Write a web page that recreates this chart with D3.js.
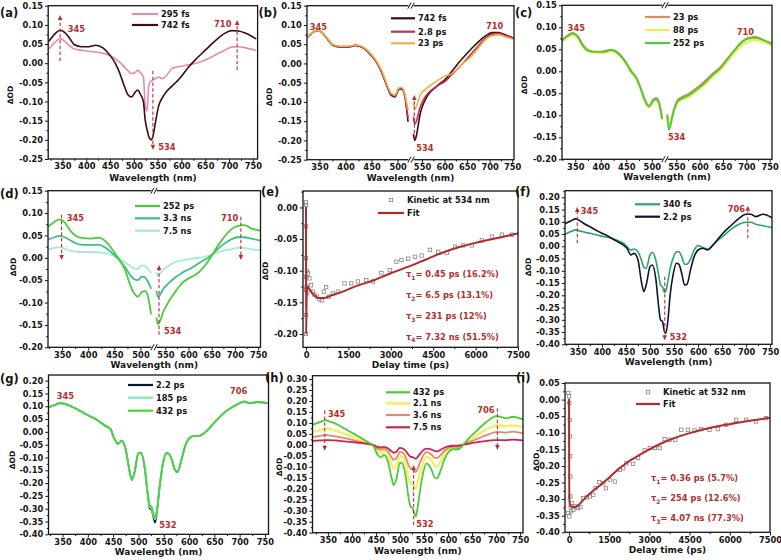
<!DOCTYPE html>
<html><head><meta charset="utf-8">
<script src="https://cdn.jsdelivr.net/npm/d3@7"></script>
<style>body{margin:0;background:#fff}svg{display:block}</style>
</head><body>
<svg id="c" width="781" height="560"></svg>
<script>
// ---------------- DATA ----------------
const W1 = [322,335,345,355,365,375,390,405,420,435,450,460,470,480,488,495,502,508,514,520,524,528,531,534,537,541,546,552,560,570,580,590,600,615,630,645,660,675,690,705,720,735,756];
const W2 = [314,335,345,355,365,375,390,405,420,435,445,452,460,467,475,482,487,492,500,505,512,518,522,526,530,533,537,542,548,555,560,566,572,577,585,592,600,610,620,630,640,655,670,685,700,710,720,735,756];

// (a)
const a_295fs = [0.038,0.055,0.064,0.057,0.045,0.037,0.034,0.031,0.029,0.026,0.020,0.012,0.003,-0.010,-0.020,-0.027,-0.025,-0.018,-0.025,-0.035,-0.110,-0.125,-0.060,-0.050,-0.046,-0.043,-0.040,-0.036,-0.040,-0.030,-0.014,-0.010,-0.008,-0.004,0.000,0.006,0.014,0.024,0.033,0.042,0.043,0.040,0.034];
const a_742fs = [0.058,0.078,0.086,0.080,0.065,0.048,0.043,0.043,0.047,0.040,0.020,0.002,-0.025,-0.060,-0.083,-0.088,-0.077,-0.070,-0.082,-0.100,-0.150,-0.175,-0.190,-0.198,-0.200,-0.185,-0.150,-0.112,-0.090,-0.072,-0.060,-0.048,-0.034,-0.010,0.010,0.028,0.046,0.063,0.077,0.085,0.084,0.078,0.064];
// (b)
const b_742fs = [0.062,0.078,0.086,0.080,0.064,0.048,0.043,0.043,0.047,0.040,0.020,0.002,-0.025,-0.060,-0.083,-0.087,-0.068,-0.066,-0.085,-0.150,null,null,-0.185,-0.200,-0.190,-0.165,-0.130,-0.108,-0.088,-0.072,-0.062,-0.052,-0.043,-0.022,0.000,0.020,0.039,0.056,0.071,0.080,0.080,0.074,0.064];
const b_28ps = [0.062,0.078,0.086,0.080,0.064,0.048,0.043,0.043,0.047,0.040,0.021,0.003,-0.023,-0.058,-0.081,-0.085,-0.067,-0.066,-0.084,-0.140,null,null,-0.140,-0.158,-0.152,-0.135,-0.113,-0.097,-0.082,-0.070,-0.062,-0.054,-0.048,-0.030,-0.013,0.006,0.026,0.046,0.065,0.076,0.078,0.072,0.064];
const b_23ps = [0.064,0.079,0.086,0.080,0.066,0.050,0.045,0.045,0.048,0.042,0.023,0.005,-0.020,-0.055,-0.078,-0.082,-0.064,-0.062,-0.080,-0.120,null,null,-0.105,-0.118,-0.113,-0.100,-0.082,-0.073,-0.065,-0.056,-0.048,-0.040,-0.033,-0.027,-0.012,0.004,0.019,0.040,0.061,0.072,0.074,0.069,0.062];
// (c)
const c_23ps = [0.068,0.081,0.087,0.079,0.060,0.048,0.044,0.045,0.049,0.041,0.019,0.000,-0.015,-0.044,-0.069,-0.079,-0.066,-0.061,-0.070,-0.105,null,null,-0.100,-0.128,-0.121,-0.102,-0.083,-0.067,-0.060,-0.055,-0.049,-0.041,-0.033,-0.019,-0.004,0.010,0.029,0.048,0.066,0.075,0.076,0.070,0.061];
const c_88ps = [0.065,0.077,0.083,0.076,0.056,0.045,0.042,0.042,0.046,0.038,0.016,-0.003,-0.018,-0.047,-0.072,-0.082,-0.070,-0.065,-0.074,-0.108,null,null,-0.104,-0.130,-0.123,-0.104,-0.086,-0.072,-0.066,-0.061,-0.056,-0.048,-0.040,-0.026,-0.010,0.004,0.023,0.042,0.059,0.068,0.071,0.067,0.058];
const c_252ps = [0.068,0.080,0.086,0.078,0.058,0.047,0.044,0.044,0.048,0.040,0.018,-0.001,-0.016,-0.045,-0.070,-0.080,-0.068,-0.063,-0.072,-0.107,null,null,-0.103,-0.133,-0.125,-0.105,-0.085,-0.070,-0.063,-0.058,-0.052,-0.044,-0.036,-0.022,-0.006,0.008,0.028,0.048,0.066,0.076,0.078,0.072,0.062];
// (d)
const d_252ps = [0.069,0.080,0.086,0.079,0.062,0.050,0.044,0.043,0.045,0.035,0.012,-0.005,-0.026,-0.060,-0.080,-0.087,-0.077,-0.074,-0.085,-0.125,null,null,-0.135,-0.148,-0.145,-0.135,-0.120,-0.108,-0.093,-0.078,-0.064,-0.053,-0.046,-0.038,-0.024,-0.004,0.022,0.044,0.062,0.071,0.073,0.066,0.060];
const d_33ns = [0.040,0.046,0.049,0.046,0.040,0.033,0.029,0.029,0.029,0.021,0.006,-0.006,-0.020,-0.038,-0.048,-0.050,-0.042,-0.043,-0.053,-0.068,null,null,-0.075,-0.087,-0.085,-0.078,-0.069,-0.062,-0.054,-0.045,-0.038,-0.031,-0.026,-0.017,-0.007,0.002,0.017,0.030,0.040,0.046,0.046,0.043,0.038];
const d_75ns = [0.018,0.022,0.024,0.020,0.016,0.014,0.013,0.013,0.012,0.010,0.004,-0.003,-0.010,-0.018,-0.024,-0.025,-0.017,-0.018,-0.025,-0.033,null,null,-0.033,-0.040,-0.037,-0.032,-0.027,-0.021,-0.016,-0.010,-0.007,-0.005,-0.003,-0.001,0.001,0.005,0.011,0.016,0.019,0.022,0.022,0.019,0.017];
// (e) kinetic at 534 nm
const e_t = [0,0,0,0,0,0,0,10,20,30,40,60,120,178,237,296,390,474,557,628,711,806,948,1126,1363,1600,1836,2133,2370,2666,2962,3199,3377,3614,3851,4088,4384,4680,4977,5273,5569,5865,6220,6576,6931,7287];
const e_od = [0.008,0.004,-0.030,-0.080,-0.130,-0.170,-0.200,-0.110,-0.125,-0.100,-0.135,-0.104,-0.112,-0.123,-0.133,-0.138,-0.141,-0.145,-0.147,-0.133,-0.126,-0.141,-0.136,-0.133,-0.120,-0.120,-0.117,-0.115,-0.117,-0.104,-0.099,-0.086,-0.083,-0.081,-0.078,-0.076,-0.067,-0.070,-0.072,-0.062,-0.060,-0.060,-0.052,-0.046,-0.043,-0.043];
const e_fit_t = [0,2,5,15,40,100,250,450,650,900,1300,1800,2400,3000,3600,4200,4800,5400,6000,6600,7200,7500];
const e_fit = [0.000,-0.100,-0.200,-0.160,-0.125,-0.128,-0.137,-0.143,-0.143,-0.139,-0.133,-0.124,-0.115,-0.104,-0.094,-0.083,-0.072,-0.063,-0.056,-0.050,-0.044,-0.041];
const e_tau = ["0.45 ps (16.2%)","6.5 ps (13.1%)","231 ps (12%)","7.32 ns (51.5%)"];
// (f)
const f_340fs = [0.040,0.060,0.067,0.062,0.057,0.053,0.046,0.039,0.033,0.022,0.012,-0.001,-0.015,-0.011,-0.022,-0.056,-0.085,-0.090,-0.035,-0.024,-0.056,-0.117,-0.158,-0.165,-0.188,-0.182,-0.144,-0.090,-0.049,-0.022,-0.022,-0.042,-0.073,-0.073,-0.049,-0.015,0.003,-0.005,-0.011,0.003,0.022,0.046,0.071,0.090,0.098,0.098,0.090,0.084,0.076];
const f_22ps = [0.085,0.103,0.112,0.103,0.090,0.080,0.063,0.049,0.033,0.016,0.005,-0.008,-0.035,-0.029,-0.056,-0.144,-0.185,-0.158,-0.083,-0.076,-0.131,-0.246,-0.301,-0.307,-0.348,-0.355,-0.307,-0.197,-0.117,-0.069,-0.073,-0.110,-0.158,-0.155,-0.090,-0.042,-0.015,-0.008,-0.015,0.003,0.026,0.060,0.087,0.114,0.131,0.131,0.121,0.131,0.114];
// (g)
const g_22ps = [0.090,0.105,0.112,0.109,0.102,0.092,0.076,0.060,0.044,0.023,0.010,-0.025,-0.047,-0.034,-0.070,-0.148,-0.188,-0.161,-0.083,-0.081,-0.135,-0.240,-0.298,-0.305,-0.337,-0.355,-0.305,-0.214,-0.128,-0.083,-0.086,-0.109,-0.148,-0.155,-0.109,-0.057,-0.025,-0.016,-0.016,-0.005,0.014,0.047,0.076,0.096,0.112,0.118,0.112,0.116,0.112];
const g_185ps = [0.090,0.105,0.112,0.109,0.102,0.092,0.076,0.060,0.044,0.023,0.010,-0.025,-0.047,-0.034,-0.070,-0.148,-0.188,-0.161,-0.083,-0.081,-0.135,-0.238,-0.292,-0.300,-0.330,-0.342,-0.300,-0.212,-0.128,-0.083,-0.086,-0.109,-0.148,-0.157,-0.110,-0.057,-0.025,-0.016,-0.016,-0.005,0.014,0.047,0.076,0.096,0.112,0.118,0.112,0.116,0.112];
const g_432ps = [0.090,0.105,0.112,0.109,0.102,0.092,0.076,0.060,0.044,0.023,0.010,-0.025,-0.046,-0.034,-0.070,-0.148,-0.186,-0.160,-0.083,-0.081,-0.134,-0.232,-0.285,-0.292,-0.322,-0.335,-0.298,-0.210,-0.128,-0.083,-0.086,-0.109,-0.148,-0.158,-0.110,-0.058,-0.026,-0.016,-0.016,-0.005,0.014,0.047,0.076,0.096,0.112,0.118,0.112,0.116,0.112];
// (h)
const h_432ps = [0.088,0.105,0.113,0.105,0.098,0.086,0.068,0.049,0.030,0.010,-0.005,-0.039,-0.057,-0.046,-0.077,-0.145,-0.183,-0.160,-0.081,-0.084,-0.145,-0.243,-0.281,-0.289,-0.312,-0.327,-0.281,-0.205,-0.130,-0.084,-0.092,-0.115,-0.148,-0.152,-0.115,-0.069,-0.036,-0.020,-0.020,-0.005,0.022,0.055,0.086,0.113,0.131,0.128,0.121,0.128,0.116];
const h_21ns = [0.058,0.068,0.075,0.070,0.065,0.058,0.046,0.034,0.021,0.007,-0.004,-0.024,-0.035,-0.028,-0.048,-0.088,-0.108,-0.098,-0.052,-0.054,-0.090,-0.150,-0.172,-0.178,-0.192,-0.200,-0.172,-0.127,-0.081,-0.054,-0.058,-0.072,-0.094,-0.098,-0.074,-0.044,-0.024,-0.013,-0.013,-0.003,0.014,0.036,0.058,0.076,0.088,0.088,0.085,0.088,0.082];
const h_36ns = [0.034,0.041,0.045,0.042,0.039,0.035,0.028,0.020,0.012,0.004,-0.003,-0.015,-0.022,-0.017,-0.030,-0.055,-0.068,-0.062,-0.032,-0.034,-0.056,-0.093,-0.107,-0.111,-0.119,-0.124,-0.107,-0.079,-0.050,-0.033,-0.036,-0.045,-0.058,-0.060,-0.046,-0.028,-0.015,-0.009,-0.009,-0.002,0.009,0.022,0.036,0.048,0.058,0.058,0.056,0.060,0.052];
const h_75ns = [0.018,0.020,0.022,0.021,0.020,0.018,0.015,0.012,0.008,0.003,-0.001,-0.008,-0.012,-0.009,-0.016,-0.028,-0.036,-0.032,-0.014,-0.016,-0.028,-0.046,-0.054,-0.056,-0.060,-0.063,-0.055,-0.040,-0.025,-0.017,-0.018,-0.022,-0.028,-0.030,-0.022,-0.013,-0.007,-0.004,-0.004,0.000,0.004,0.010,0.015,0.019,0.022,0.022,0.021,0.024,0.020];
// (i) kinetic at 532 nm
const i_t = [-25,0,12,25,37,37,50,50,62,12,-25,74,99,161,223,322,421,533,657,781,905,992,1128,1277,1376,1525,1711,1897,2021,2145,2393,2579,2826,3012,3198,3384,3570,3756,3967,4190,4438,4686,4934,5243,5554,5864,6236,6607,6979,7351];
const i_od = [0.020,0.010,-0.010,-0.061,-0.111,-0.171,-0.232,-0.292,-0.322,-0.352,-0.342,-0.337,-0.312,-0.332,-0.322,-0.327,-0.324,-0.297,-0.295,-0.292,-0.287,-0.267,-0.249,-0.252,-0.267,-0.242,-0.247,-0.212,-0.207,-0.192,-0.194,-0.176,-0.153,-0.146,-0.146,-0.146,-0.119,-0.121,-0.121,-0.091,-0.091,-0.093,-0.089,-0.091,-0.089,-0.076,-0.061,-0.061,-0.066,-0.056];
const i_fit_t = [0,3,8,20,60,200,350,600,900,1215,1500,1835,2200,2600,3000,3500,4000,4500,5000,5500,6000,6800,7500];
const i_fit = [0.000,-0.120,-0.260,-0.310,-0.322,-0.324,-0.318,-0.297,-0.275,-0.255,-0.235,-0.210,-0.188,-0.168,-0.150,-0.130,-0.114,-0.101,-0.090,-0.081,-0.074,-0.063,-0.055];
const i_tau = ["0.36 ps (5.7%)","254 ps (12.6%)","4.07 ns (77.3%)"];

// tick values
const wlTicks = [350,400,450,500,550,600,650,700,750];
const tTicks = [0,1500,3000,4500,6000,7500];
const yT_ab = [-0.25,-0.20,-0.15,-0.10,-0.05,0,0.05,0.10,0.15];
const yT_cd = [-0.20,-0.15,-0.10,-0.05,0,0.05,0.10,0.15];
const yT_e = [-0.20,-0.15,-0.10,-0.05,0];
const yT_fg = [-0.40,-0.35,-0.30,-0.25,-0.20,-0.15,-0.10,-0.05,0,0.05,0.10,0.15,0.20];
const yT_h = [-0.40,-0.35,-0.30,-0.25,-0.20,-0.15,-0.10,-0.05,0,0.05,0.10,0.15,0.20,0.25,0.30];
const yT_i = [-0.40,-0.35,-0.30,-0.25,-0.20,-0.15,-0.10,-0.05,0,0.05];

// ---------------- DRAWING ----------------
const svg = d3.select('#c');
const defs = svg.append('defs');
const FONT = "'DejaVu Sans', Verdana, sans-serif";
const RED = '#b3302e';
const INK = '#151515';

function fmt2(d){ if (Math.abs(d) < 1e-9) return '0.00'; return (d < 0 ? '-' : '') + Math.abs(d).toFixed(2); }
function mids(arr){ const m=[]; for(let i=0;i<arr.length-1;i++) m.push((arr[i]+arr[i+1])/2); return m; }

function styleAxis(ax){
  ax.select('.domain').remove();
  ax.selectAll('line').attr('stroke', INK).attr('stroke-width', 1);
  ax.selectAll('text').attr('font-family', FONT).attr('font-weight','bold').attr('font-size', 8.3).attr('fill', INK);
}

function panel(o){
  const x = d3.scaleLinear().domain(o.xd).range(o.xr);
  const y = d3.scaleLinear().domain(o.yd).range(o.yr);
  const L = o.xr[0], R = o.xr[o.xr.length-1], T = o.yr[1], B = o.yr[0];
  const g = svg.append('g');
  const cid = 'clip_' + o.id;
  defs.append('clipPath').attr('id', cid).append('rect').attr('x', L).attr('y', T).attr('width', R-L).attr('height', B-T);
  const pl = g.append('g').attr('clip-path', `url(#${cid})`);
  let xm = mids(o.xt);
  const step = o.xt[1]-o.xt[0];
  if (o.xt[0]-step/2 >= o.xd[0]) xm.unshift(o.xt[0]-step/2);
  if (o.xt[o.xt.length-1]+step/2 <= o.xd[o.xd.length-1]) xm.push(o.xt[o.xt.length-1]+step/2);
  if (o.brk) xm = xm.filter(v => v < 518 || v > 534);
  let ym = mids(o.yt);
  const ys = o.yt[1]-o.yt[0];
  if (o.yt[o.yt.length-1]+ys/2 <= o.yd[1]+1e-9) ym.push(o.yt[o.yt.length-1]+ys/2);
  if (o.yt[0]-ys/2 >= o.yd[0]-1e-9) ym.unshift(o.yt[0]-ys/2);
  const axg = g.append('g');
  styleAxis(axg.append('g').attr('transform', `translate(0,${B})`).call(d3.axisBottom(x).tickValues(xm).tickSize(1.8).tickFormat('')));
  styleAxis(axg.append('g').attr('transform', `translate(0,${B})`).call(d3.axisBottom(x).tickValues(o.xt).tickSize(3.2).tickPadding(1.4).tickFormat(d3.format('d'))));
  styleAxis(axg.append('g').attr('transform', `translate(${L},0)`).call(d3.axisLeft(y).tickValues(ym).tickSize(1.8).tickFormat('')));
  styleAxis(axg.append('g').attr('transform', `translate(${L},0)`).call(d3.axisLeft(y).tickValues(o.yt).tickSize(3.2).tickPadding(2).tickFormat(fmt2)));
  g.append('rect').attr('x', L).attr('y', T).attr('width', R-L).attr('height', B-T)
    .attr('fill','none').attr('stroke', INK).attr('stroke-width', 1.3);
  if (o.brk){
    const bx = x(526);
    [T, B].forEach(yy => {
      g.append('rect').attr('x', bx-2.6).attr('y', yy-3).attr('width', 5.2).attr('height', 6).attr('fill','#fff');
      [-1.6, 1.6].forEach(dx => g.append('line').attr('x1', bx+dx-1.6).attr('y1', yy+3).attr('x2', bx+dx+1.6).attr('y2', yy-3)
        .attr('stroke', INK).attr('stroke-width', 1));
    });
  }
  g.append('text').attr('x', (L+R)/2).attr('y', B + o.xtY).attr('text-anchor','middle')
    .attr('font-family', FONT).attr('font-weight','bold').attr('font-size', 9).attr('fill', INK).text(o.xtitle);
  g.append('text').attr('transform', `translate(${o.yl[0]},${o.yl[1]}) rotate(-90)`).attr('text-anchor','middle')
    .attr('font-family', FONT).attr('font-weight','bold').attr('font-size', 7.6).attr('fill', INK).text('ΔOD');
  g.append('text').attr('x', o.lab[0]).attr('y', o.lab[1]).attr('font-family', FONT).attr('font-weight','bold').attr('font-size', 11.5)
    .attr('fill', INK).text(o.label);
  return {x, y, g, pl, L, R, T, B};
}

function series(P, X, Y, color, w){
  const data = X.map((v,i) => [v, Y[i]]);
  P.pl.append('path').datum(data)
    .attr('d', d3.line().defined(d => d[1] != null).x(d => P.x(d[0])).y(d => P.y(d[1])).curve(d3.curveMonotoneX))
    .attr('fill','none').attr('stroke', color).attr('stroke-width', w || 1.6).attr('stroke-linejoin','round').attr('stroke-linecap','round');
}
function scatter(P, X, Y){
  P.pl.selectAll(null).data(X.map((v,i)=>[v,Y[i]])).enter().append('rect')
    .attr('x', d => P.x(d[0]) - 1.7).attr('y', d => P.y(d[1]) - 1.7).attr('width', 3.4).attr('height', 3.4)
    .attr('fill','none').attr('stroke', '#7d7d7d').attr('stroke-width', 0.75);
}
function arrow(P, lam, y0, y1){
  const px = P.x(lam), a = P.y(y0), b = P.y(y1);
  const dir = b < a ? -1 : 1;
  P.g.append('line').attr('x1', px).attr('x2', px).attr('y1', a).attr('y2', b - dir*4.5)
    .attr('stroke', RED).attr('stroke-width', 1.1).attr('stroke-dasharray', '3.5,2.3');
  P.g.append('path').attr('d', `M${px-2.3},${b-dir*5}L${px+2.3},${b-dir*5}L${px},${b}Z`).attr('fill', RED);
}
function note(P, lam, v, str, anchor){
  P.g.append('text').attr('x', P.x(lam)).attr('y', P.y(v) + 3).attr('text-anchor', anchor || 'start')
    .attr('font-family', FONT).attr('font-weight','bold').attr('font-size', 8.3).attr('fill', RED).text(str);
}
function legend(P, x1, x2, ys, items){
  items.forEach((it, k) => {
    P.g.append('line').attr('x1', x1).attr('x2', x2).attr('y1', ys[k]).attr('y2', ys[k])
      .attr('stroke', it[1]).attr('stroke-width', it[2] || 2.2);
    P.g.append('text').attr('x', x2 + 3).attr('y', ys[k] + 3).attr('font-family', FONT).attr('font-weight','bold')
      .attr('font-size', 8.3).attr('fill', INK).text(it[0]);
  });
}
function tauText(P, x0, ys, arr){
  arr.forEach((s, k) => {
    const t = P.g.append('text').attr('x', x0).attr('y', ys[k]).attr('font-family', FONT).attr('font-weight','bold')
      .attr('font-size', 8.3).attr('fill', RED);
    t.append('tspan').text('τ');
    t.append('tspan').attr('font-size', 6).attr('dy', 2.5).text(k + 1);
    t.append('tspan').attr('dy', -2.5).text('= ' + s);
  });
}

const C = {
  maroon:'#3d0b10', pink:'#e58bb1', crimson:'#c2304f', gold:'#e9b24c', salmon:'#d98a6a', yellow:'#f1ec55',
  green:'#4ccb3a', teal:'#3dbf88', mint:'#a5e9da', sea:'#2ea46a', navy:'#0f1432', lmint:'#79eab4',
  lgreen:'#4bd43c', lyellow:'#f4ef6e', peach:'#e08a6e', rose:'#c8284f', fit:'#b22a2a'
};
const WL = 'Wavelength (nm)', DT = 'Delay time (ps)';

// (a)
const A = panel({id:'a', xd:[320,760], xr:[48.2,257.6], yd:[-0.25,0.15], yr:[159,5.7], xt:wlTicks, yt:yT_ab,
  xtitle:WL, xtY:21.5, yl:[12.5,95], lab:[0,16.5], label:'(a)'});
series(A, W1, a_295fs, C.pink);
series(A, W1, a_742fs, C.maroon);
arrow(A, 345, 0.006, 0.126); arrow(A, 540, -0.020, -0.226); arrow(A, 717, -0.018, 0.113);
note(A, 361, 0.088, '345'); note(A, 551, -0.218, '534'); note(A, 705, 0.102, '710', 'end');
legend(A, 132, 158, [14, 25], [['295 fs', C.pink], ['742 fs', C.maroon]]);

// (b)
const Bp = panel({id:'b', xd:[326,522,530,754], xr:[307,409,413,514], yd:[-0.25,0.15], yr:[159.7,5.7], xt:wlTicks, yt:yT_ab, brk:true,
  xtitle:WL, xtY:21, yl:[271.5,97], lab:[258.5,16.5], label:'(b)'});
series(Bp, W1, b_742fs, C.maroon);
series(Bp, W1, b_28ps, C.crimson);
series(Bp, W1, b_23ps, C.gold);
arrow(Bp, 533, -0.197, -0.082);
note(Bp, 348, 0.095, '345', 'middle'); note(Bp, 711, 0.098, '710', 'middle'); note(Bp, 537, -0.219, '534');
legend(Bp, 391, 415, [18.3, 31.7, 43.3], [['742 fs', C.maroon], ['2.8 ps', C.crimson], ['23 ps', C.gold]]);

// (c)
const Cp = panel({id:'c', xd:[324,522,530,755], xr:[562,663,667,772], yd:[-0.20,0.15], yr:[159.3,5.3], xt:wlTicks, yt:yT_cd, brk:true,
  xtitle:WL, xtY:21, yl:[526.5,85], lab:[515,16.5], label:'(c)'});
series(Cp, W1, c_23ps, C.salmon, 2.2);
series(Cp, W1, c_88ps, C.yellow, 2.2);
series(Cp, W1, c_252ps, C.green, 1.8);
note(Cp, 352, 0.098, '345', 'middle'); note(Cp, 698, 0.089, '710', 'middle'); note(Cp, 532, -0.149, '534');
legend(Cp, 645, 670, [17, 30, 43], [['23 ps', C.salmon], ['88 ps', C.yellow], ['252 ps', C.green]]);

// (d)
const Dp = panel({id:'d', xd:[323,522,530,755], xr:[48,152,156,260.5], yd:[-0.20,0.15], yr:[347.3,190.7], xt:wlTicks, yt:yT_cd, brk:true,
  xtitle:WL, xtY:21, yl:[15.5,267], lab:[0,198], label:'(d)'});
series(Dp, W1, d_75ns, C.mint, 1.8);
series(Dp, W1, d_33ns, C.teal, 1.8);
series(Dp, W1, d_252ps, C.green, 1.8);
arrow(Dp, 349, 0.096, -0.005); arrow(Dp, 712.7, 0.092, -0.005); arrow(Dp, 536.5, -0.172, -0.016);
note(Dp, 359, 0.088, '345'); note(Dp, 707, 0.088, '710', 'end'); note(Dp, 547, -0.163, '534');
legend(Dp, 135, 160, [206, 218.3, 230.7], [['252 ps', C.green], ['3.3 ns', C.teal], ['7.5 ns', C.mint]]);

// (e)
const Ep = panel({id:'e', xd:[-107,7500], xr:[303,518], yd:[-0.221,0.026], yr:[347.3,191], xt:tTicks, yt:yT_e,
  xtitle:DT, xtY:20.5, yl:[267.5,271], lab:[261,196], label:'(e)'});
scatter(Ep, e_t, e_od);
series(Ep, e_fit_t, e_fit, C.fit, 2);
Ep.g.append('rect').attr('x', 389.3).attr('y', 198.3).attr('width', 3.4).attr('height', 3.4).attr('fill','none').attr('stroke','#7d7d7d').attr('stroke-width',0.75);
Ep.g.append('text').attr('x', 407).attr('y', 203).attr('font-family', FONT).attr('font-weight','bold').attr('font-size', 8.3).attr('fill', INK).text('Kinetic at 534 nm');
legend(Ep, 378, 404, [213], [['Fit', C.fit]]);
tauText(Ep, 406, [277, 298, 319, 339.5], e_tau);

// (f)
const Fp = panel({id:'f', xd:[323,754], xr:[565,772], yd:[-0.40,0.227], yr:[344.3,190.7], xt:wlTicks, yt:yT_fg,
  xtitle:WL, xtY:21, yl:[530.5,267], lab:[515,196], label:'(f)'});
series(Fp, W2, f_340fs, C.sea);
series(Fp, W2, f_22ps, C.navy);
arrow(Fp, 348.6, 0.012, 0.160); arrow(Fp, 703.6, 0.033, 0.166); arrow(Fp, 530.7, -0.124, -0.383);
note(Fp, 356, 0.144, '345'); note(Fp, 698, 0.152, '706', 'end'); note(Fp, 541, -0.369, '532');
legend(Fp, 635, 660, [204.3, 216.7], [['340 fs', C.sea], ['2.2 ps', C.navy]]);

// (g)
const Gp = panel({id:'g', xd:[322.3,757], xr:[48.5,268.5], yd:[-0.40,0.222], yr:[534.3,375], xt:wlTicks, yt:yT_fg,
  xtitle:WL, xtY:20.5, yl:[14.5,460], lab:[0,383], label:'(g)'});
series(Gp, W2, g_22ps, C.navy);
series(Gp, W2, g_185ps, C.lmint, 1.8);
series(Gp, W2, g_432ps, C.lgreen, 1.8);
note(Gp, 338.5, 0.140, '345'); note(Gp, 681, 0.160, '706'); note(Gp, 541, -0.364, '532');
legend(Gp, 128, 153, [385, 397.7, 410.7], [['2.2 ps', C.navy], ['185 ps', C.lmint], ['432 ps', C.lgreen]]);

// (h)
const Hp = panel({id:'h', xd:[318,756], xr:[312.5,523], yd:[-0.40,0.315], yr:[532.7,375.7], xt:wlTicks, yt:yT_h,
  xtitle:WL, xtY:21, yl:[281.5,467], lab:[265,382], label:'(h)'});
series(Hp, W2, h_21ns, C.lyellow, 2.6);
series(Hp, W2, h_36ns, C.peach, 1.8);
series(Hp, W2, h_75ns, C.rose, 1.8);
series(Hp, W2, h_432ps, C.green, 1.8);
arrow(Hp, 343.4, 0.156, -0.027); arrow(Hp, 702.7, 0.167, -0.023); arrow(Hp, 528.4, -0.365, -0.092);
note(Hp, 350, 0.139, '345'); note(Hp, 697, 0.159, '706', 'end'); note(Hp, 534, -0.360, '532');
legend(Hp, 386, 410, [392.3, 403.3, 415, 427.3], [['432 ps', C.green], ['2.1 ns', C.lyellow, 3], ['3.6 ns', C.peach], ['7.5 ns', C.rose]]);

// (i)
const Ip = panel({id:'i', xd:[-150,7500], xr:[565,770], yd:[-0.40,0.05], yr:[532.3,383], xt:tTicks, yt:yT_i,
  xtitle:DT, xtY:21, yl:[538.5,462], lab:[516,382], label:'(i)'});
scatter(Ip, i_t, i_od);
series(Ip, i_fit_t, i_fit, C.fit, 2);
Ip.g.append('rect').attr('x', 646.3).attr('y', 390.6).attr('width', 3.4).attr('height', 3.4).attr('fill','none').attr('stroke','#7d7d7d').attr('stroke-width',0.75);
Ip.g.append('text').attr('x', 663).attr('y', 395.3).attr('font-family', FONT).attr('font-weight','bold').attr('font-size', 8.3).attr('fill', INK).text('Kinetic at 532 nm');
legend(Ip, 636, 660, [404], [['Fit', C.fit]]);
tauText(Ip, 651, [481, 501, 521], i_tau);
</script>
</body></html>
